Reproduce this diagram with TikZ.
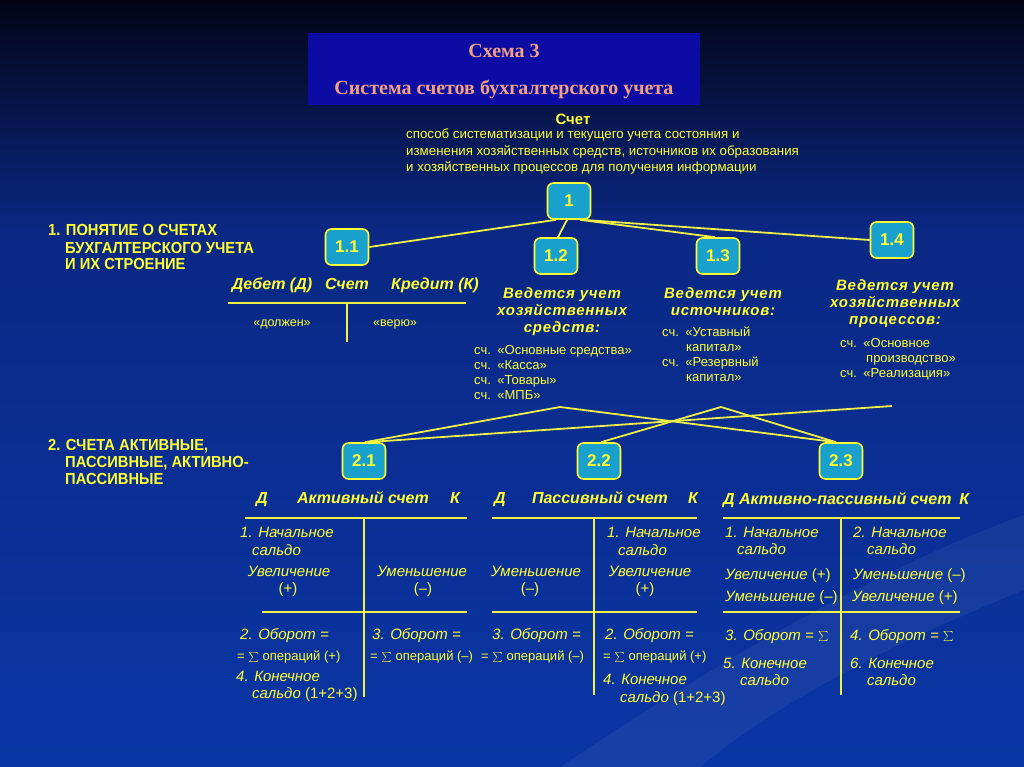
\documentclass[tikz,border=0pt]{standalone}
\usepackage{fontspec}
\setmainfont{Liberation Sans}
\newfontfamily\serifT{Liberation Serif}
\newfontfamily\condF[FakeStretch=0.92]{Liberation Sans}
\newfontfamily\spacedF[LetterSpace=5]{Liberation Sans}
\usetikzlibrary{calc}
\definecolor{yel}{RGB}{255,255,51}
\definecolor{lyel}{RGB}{240,240,70}
\definecolor{boxc}{RGB}{25,160,205}
\definecolor{titleblue}{RGB}{12,12,165}
\definecolor{salmon}{RGB}{242,160,128}
\definecolor{bgtop}{RGB}{3,5,22}
\definecolor{bgmid}{RGB}{10,40,132}
\definecolor{bgbot}{RGB}{10,54,165}
\newcommand\smsum{{\fontsize{11}{11}\selectfont$\sum$}}
\begin{document}
\begin{tikzpicture}[x=1pt,y=-1pt,
  box/.style={draw=yel, line width=1.6pt, fill=boxc, rounded corners=6pt,
    minimum width=43pt, minimum height=36pt, text=yel, inner sep=0,
    font=\bfseries\fontsize{17}{17}\selectfont},
  conn/.style={draw=lyel, line width=1.8pt},
  tline/.style={draw=lyel, line width=1.8pt},
  hd/.style={text=yel, anchor=base west, inner sep=0, font=\condF\bfseries\fontsize{16}{16}\selectfont},
  bi/.style={text=yel, anchor=base, inner sep=0, font=\spacedF\bfseries\itshape\fontsize{15}{15}\selectfont},
  th/.style={text=yel, anchor=base, inner sep=0, font=\bfseries\itshape\fontsize{16}{16}\selectfont},
  it/.style={text=yel, anchor=base west, inner sep=0, font=\itshape\fontsize{15}{15}\selectfont},
  itc/.style={it, anchor=base},
  sm/.style={text=yel, anchor=base west, inner sep=0, font=\fontsize{13}{13}\selectfont},
  df/.style={text=yel, anchor=base west, inner sep=0, font=\fontsize{13.3}{13.3}\selectfont},
  op/.style={text=yel, anchor=base west, inner sep=0, font=\fontsize{13}{13}\selectfont}]
\useasboundingbox (0,0) rectangle (1024,767);
% background
\shade[top color=bgtop, bottom color=bgmid] (0,0) rectangle (1024,231);
\shade[top color=bgmid, bottom color=bgbot] (0,230) rectangle (1024,767);
\fill[white, opacity=0.05] (560,767) .. controls (750,640) and (900,560) .. (1024,515)
  -- (1024,590) .. controls (900,640) and (780,700) .. (700,767) -- cycle;
% title
\node[fill=titleblue, minimum width=392pt, minimum height=72pt, inner sep=0] (title) at (504,69) {};
\node[anchor=base, text=salmon, font=\serifT\bfseries\fontsize{20}{20}\selectfont] (sch) at (504,58) {Схема 3};
\node[anchor=base, text=salmon, font=\serifT\bfseries\fontsize{20}{20}\selectfont] (sys) at (504,95) {Система счетов бухгалтерского учета};
% definition
\node[anchor=base, text=yel, inner sep=0, font=\bfseries\fontsize{15}{15}\selectfont] (schet) at (573,125) {Счет};
\node[df] (d1) at (406,139) {способ систематизации и текущего учета состояния и};
\node[df] (d2) at (406,156) {изменения хозяйственных средств, источников их образования};
\node[df] (d3) at (406,172) {и хозяйственных процессов для получения информации};
% boxes
\node[box] (b1) at (569,201) {1};
\node[box] (b11) at (347,247) {1.1};
\node[box] (b12) at (556,256) {1.2};
\node[box] (b13) at (718,256) {1.3};
\node[box] (b14) at (892,240) {1.4};
\node[box] (b21) at (364,461) {2.1};
\node[box] (b22) at (599,461) {2.2};
\node[box] (b23) at (841,461) {2.3};
% upper connectors
\draw[conn] ($(b1.south)+(-13,0)$) -- (b11.east);
\draw[conn] ($(b1.south)+(-2,0)$) -- ($(b12.north)+(2,0)$);
\draw[conn] ($(b1.south)+(11,0)$) -- ($(b13.north)+(-3,0)$);
\draw[conn] ($(b1.south)+(13,0)$) -- (b14.west);
% headings
\node[hd] (h1a) at (48,236) {1. ПОНЯТИЕ О СЧЕТАХ};
\node[hd] (h1b) at (65,253) {БУХГАЛТЕРСКОГО УЧЕТА};
\node[hd] (h1c) at (65,269) {И ИХ СТРОЕНИЕ};
\node[hd] (h2a) at (48,450) {2. СЧЕТА АКТИВНЫЕ,};
\node[hd] (h2b) at (65,467) {ПАССИВНЫЕ, АКТИВНО-};
\node[hd] (h2c) at (65,484) {ПАССИВНЫЕ};
% T-account 1.1
\node[th] (deb) at (272,289) {Дебет (Д)};
\node[th] (sc) at (347,289) {Счет};
\node[th] (kre) at (435,289) {Кредит (К)};
\draw[tline] (228,303) -- (466,303);
\draw[tline] (347,303) -- (347,342);
\node[sm, anchor=base, font=\fontsize{12.5}{12.5}\selectfont] (dol) at (282,326) {«должен»};
\node[sm, anchor=base, font=\fontsize{12.5}{12.5}\selectfont] (ver) at (395,326) {«верю»};
% 1.2
\node[bi] (v2a) at (562,298) {Ведется учет};
\node[bi] (v2b) at (562,315) {хозяйственных};
\node[bi] (v2c) at (562,332) {средств:};
\node[sm] (l2a) at (474,354) {сч.\enspace«Основные средства»};
\node[sm] (l2b) at (474,369) {сч.\enspace«Касса»};
\node[sm] (l2c) at (474,384) {сч.\enspace«Товары»};
\node[sm] (l2d) at (474,399) {сч.\enspace«МПБ»};
% 1.3
\node[bi] (v3a) at (723,298) {Ведется учет};
\node[bi] (v3b) at (723,315) {источников:};
\node[sm] (l3a) at (662,336) {сч.\enspace«Уставный};
\node[sm] (l3b) at (686,351) {капитал»};
\node[sm] (l3c) at (662,366) {сч.\enspace«Резервный};
\node[sm] (l3d) at (686,381) {капитал»};
% 1.4
\node[bi] (v4a) at (895,290) {Ведется учет};
\node[bi] (v4b) at (895,307) {хозяйственных};
\node[bi] (v4c) at (895,324) {процессов:};
\node[sm] (l4a) at (840,347) {сч.\enspace«Основное};
\node[sm] (l4b) at (866,362) {производство»};
\node[sm] (l4c) at (840,377) {сч.\enspace«Реализация»};
% lower connectors
\coordinate (p1) at (560,407);
\coordinate (p2) at (721,407);
\coordinate (p3) at (892,406);
\draw[conn] (p1) -- ($(b21.north)+(1,0)$);
\draw[conn] (p1) -- ($(b23.north)+(-5,0)$);
\draw[conn] (p2) -- ($(b22.north)+(2,0)$);
\draw[conn] (p2) -- ($(b23.north)+(-5,0)$);
\draw[conn] (p3) -- ($(b21.north)+(3,0)$);
% table 2.1
\node[th] (a1) at (262,503) {Д};
\node[th] (a2) at (363,503) {Активный счет};
\node[th] (a3) at (455,503) {К};
\draw[tline] (245,518) -- (467,518);
\draw[tline] (364,518) -- (364,697);
\draw[tline] (262,612) -- (467,612);
\node[it] (a4) at (240,537) {1. Начальное};
\node[it] (a5) at (252,555) {сальдо};
\node[itc] (a6) at (289,576) {Увеличение};
\node[itc] (a7) at (288,593) {\upshape(+)};
\node[itc] (a8) at (422,576) {Уменьшение};
\node[itc] (a9) at (423,593) {\upshape(–)};
\node[it] (a10) at (240,639) {2. Оборот =};
\node[op] (a11) at (237,660) {= \smsum\ операций (+)};
\node[it] (a12) at (236,681) {4. Конечное};
\node[it] (a13) at (252,698) {сальдо \upshape(1+2+3)};
\node[it] (a14) at (372,639) {3. Оборот =};
\node[op] (a15) at (370,660) {= \smsum\ операций (–)};
% table 2.2
\node[th] (c1) at (500,503) {Д};
\node[th] (c2) at (600,503) {Пассивный счет};
\node[th] (c3) at (693,503) {К};
\draw[tline] (492,518) -- (697,518);
\draw[tline] (594,518) -- (594,695);
\draw[tline] (492,612) -- (697,612);
\node[it] (c4) at (607,537) {1. Начальное};
\node[it] (c5) at (618,555) {сальдо};
\node[itc] (c6) at (650,576) {Увеличение};
\node[itc] (c7) at (645,593) {\upshape(+)};
\node[itc] (c8) at (536,576) {Уменьшение};
\node[itc] (c9) at (530,593) {\upshape(–)};
\node[it] (c10) at (492,639) {3. Оборот =};
\node[op] (c11) at (481,660) {= \smsum\ операций (–)};
\node[it] (c12) at (605,639) {2. Оборот =};
\node[op] (c13) at (603,660) {= \smsum\ операций (+)};
\node[it] (c14) at (603,684) {4. Конечное};
\node[it] (c15) at (620,702) {сальдо \upshape(1+2+3)};
% table 2.3
\node[th, anchor=base west] (e1) at (723,504) {Д Активно-пассивный счет\enspace К};
\draw[tline] (723,518) -- (960,518);
\draw[tline] (841,518) -- (841,695);
\draw[tline] (723,612) -- (960,612);
\node[it] (e2) at (725,537) {1. Начальное};
\node[it] (e3) at (737,554) {сальдо};
\node[it] (e4) at (725,579) {Увеличение \upshape(+)};
\node[it] (e5) at (725,601) {Уменьшение \upshape(–)};
\node[it] (e6) at (853,537) {2. Начальное};
\node[it] (e7) at (867,554) {сальдо};
\node[it] (e8) at (853,579) {Уменьшение \upshape(–)};
\node[it] (e9) at (852,601) {Увеличение \upshape(+)};
\node[it] (e10) at (725,640) {3. Оборот = $\sum$};
\node[it] (e11) at (723,668) {5. Конечное};
\node[it] (e12) at (740,685) {сальдо};
\node[it] (e13) at (850,640) {4. Оборот = $\sum$};
\node[it] (e14) at (850,668) {6. Конечное};
\node[it] (e15) at (867,685) {сальдо};
\end{tikzpicture}
\end{document}
